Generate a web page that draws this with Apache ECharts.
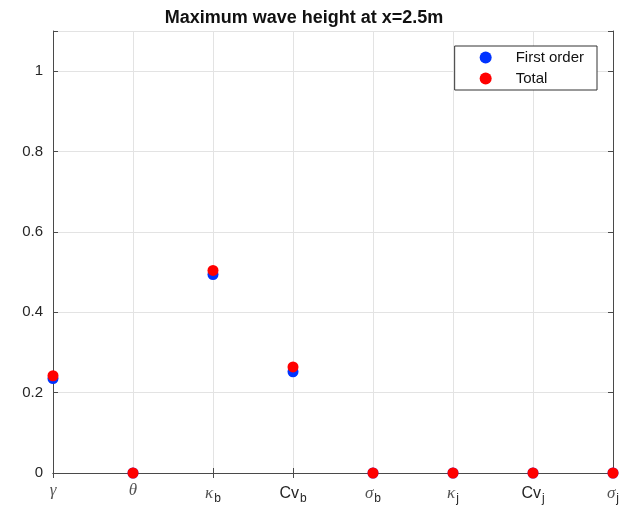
<!DOCTYPE html>
<html><head><meta charset="utf-8">
<script src="https://cdn.jsdelivr.net/npm/echarts@6/dist/echarts.min.js"></script>
<style>html,body{margin:0;padding:0;background:#fff}#c{width:626px;height:510px}</style>
</head><body><div id="c"></div>
<script>
const categories = ['γ_', 'θ_', 'κ_b', 'Cv_b', 'σ_b', 'κ_j', 'Cv_j', 'σ_j'];
const firstOrder = [0.235, 0, 0.494, 0.252, 0, 0, 0, 0];
const total = [0.242, 0, 0.504, 0.264, 0, 0, 0, 0];
const yTicks = [0, 0.2, 0.4, 0.6, 0.8, 1];

function fmt(v) {
  const [base, sub] = v.split('_');
  const isGreek = base !== 'Cv';
  let s = isGreek ? '{g|' + base + '}' : '{n|' + base + '}';
  if (sub) s += '{s|' + sub + '}';
  return s;
}
const rich = {
  g: {fontFamily: 'Liberation Serif', fontStyle: 'italic', fontSize: 17, color: '#555'},
  n: {fontFamily: 'Liberation Sans', fontSize: 16, color: '#262626'},
  s: {fontFamily: 'Liberation Sans', fontSize: 12, color: '#262626', padding: [11, 0, 0, 1]}
};
const chart = echarts.init(document.getElementById('c'));
const axisLine = {show: true, lineStyle: {color: '#4a4a4a', width: 1}};
const tick = {show: true, inside: true, length: 5, lineStyle: {color: '#4a4a4a'}};
chart.setOption({
  animation: false,
  title: {text: 'Maximum wave height at x=2.5m', left: 299, top: 4, textAlign: 'center',
    textStyle: {fontFamily: 'Liberation Sans', fontWeight: 'bold', fontSize: 18, color: '#111'}},
  grid: {left: 53, right: 13, top: 31, bottom: 37, containLabel: false},
  legend: {
    data: ['First order', 'Total'], orient: 'vertical', right: 29, top: 46,
    backgroundColor: '#fff', borderColor: '#333', borderWidth: 1,
    padding: [4, 13, 4, 25], itemGap: 6, itemWidth: 12, itemHeight: 12,
    textStyle: {fontFamily: 'Liberation Sans', fontSize: 15, color: '#111', padding: [0, 0, 0, 19]}
  },
  xAxis: [{
    type: 'category', data: categories, boundaryGap: false,
    axisLine: axisLine, axisTick: tick,
    splitLine: {show: true, lineStyle: {color: '#e3e3e3'}},
    axisLabel: {formatter: fmt, rich: rich, margin: 9}
  }, {
    type: 'category', data: categories, boundaryGap: false, position: 'top',
    axisLine: axisLine, axisTick: tick, axisLabel: {show: false}
  }],
  yAxis: [{
    type: 'value', min: 0, max: 1.1, interval: 0.2,
    axisLine: axisLine, axisTick: tick,
    splitLine: {show: true, lineStyle: {color: '#e3e3e3'}},
    axisLabel: {fontFamily: 'Liberation Sans', fontSize: 15, color: '#262626', margin: 10,
      formatter: v => yTicks.some(t => Math.abs(t - v) < 1e-9) ? String(+v.toFixed(1)) : ''},
    showMaxLabel: false
  }, {
    type: 'value', min: 0, max: 1.1, interval: 0.2, position: 'right',
    axisLine: axisLine, axisTick: tick, axisLabel: {show: false}, splitLine: {show: false}
  }],
  series: [{
    name: 'First order', type: 'scatter', data: firstOrder, symbolSize: 11,
    itemStyle: {color: '#0033ff', opacity: 1}, z: 3
  }, {
    name: 'Total', type: 'scatter', data: total, symbolSize: 11,
    itemStyle: {color: '#ff0000', opacity: 1}, z: 4
  }]
});
</script></body></html>
